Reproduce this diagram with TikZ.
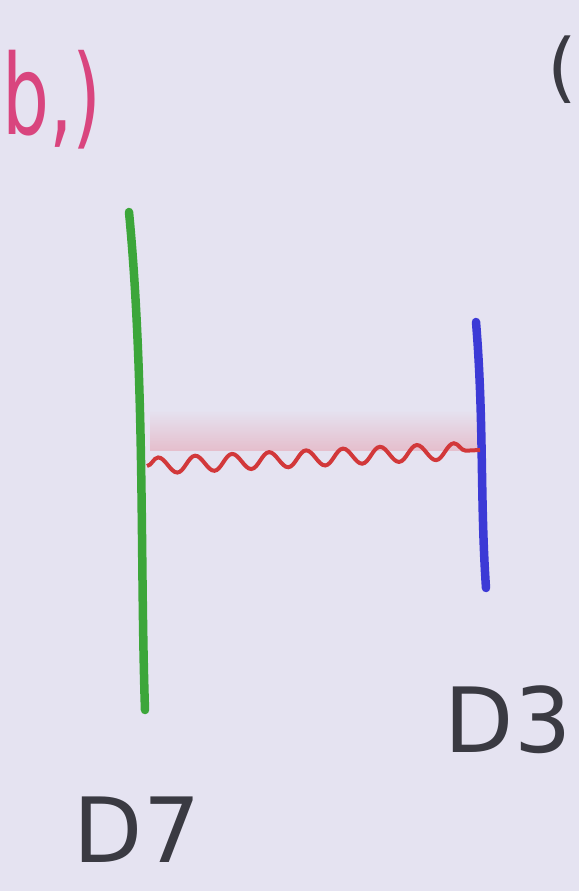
\documentclass[tikz,border=0pt]{standalone}
\usepackage{fontspec}
\setmainfont{DejaVu Sans}
\usetikzlibrary{decorations.pathmorphing}
\definecolor{bg}{HTML}{E5E3F1}
\definecolor{dgreen}{HTML}{3CA63A}
\definecolor{dblue}{HTML}{3C3AD6}
\definecolor{wred}{HTML}{D2383A}
\definecolor{haze}{HTML}{E6B0BE}
\definecolor{pinkink}{HTML}{D9457E}
\definecolor{ink}{HTML}{3A3A42}
\tikzset{
  brane/.style={line width=8.5pt, line cap=round},
  lbl/.style={text=ink, font=\fontsize{90}{90}\selectfont, inner sep=0pt},
  string/.style={wred, line width=4pt, decorate,
    decoration={snake, segment length=37pt, amplitude=8pt}}
}
\begin{document}
\begin{tikzpicture}[x=1pt,y=-1pt]
\useasboundingbox (0,0) rectangle (579,891);
\fill[bg] (0,0) rectangle (579,891);
% haze above the string
\shade[top color=bg, bottom color=haze, opacity=0.7] (150,410) rectangle (478,450);
% branes
\coordinate (g1) at (129,212);
\coordinate (g2) at (145,710);
\coordinate (b1) at (476,322);
\coordinate (b2) at (486,588);
\draw[brane, dgreen] (g1) .. controls (145,380) and (140,560) .. (g2);
\draw[brane, dblue] (b1) .. controls (484,420) and (480,500) .. (b2);
% string
\coordinate (sL) at (147,466);
\coordinate (sR) at (480,450);
\draw[string] (sL) -- (sR);
% labels
\node[lbl, anchor=center] (d7) at (137,830) {D7};
\node[lbl, anchor=center] (d3) at (508,720) {D3};
\node[text=pinkink, font=\fontsize{74}{74}\selectfont, inner sep=0pt, anchor=west] (tag) at (2,100) {\scalebox{1}[1.5]{b,)}};
\node[text=ink, font=\fontsize{76}{76}\selectfont, inner sep=0pt, anchor=east] (par) at (577,70) {(};
\end{tikzpicture}
\end{document}
